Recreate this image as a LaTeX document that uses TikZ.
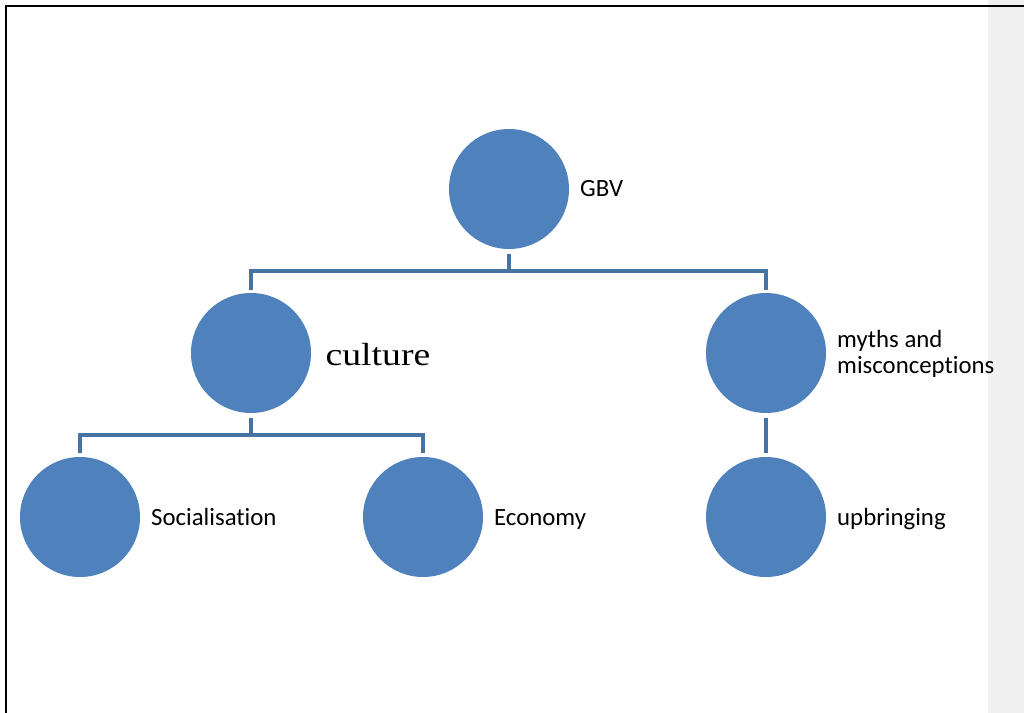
\documentclass[tikz,border=0pt]{standalone}
\usepackage{fontspec}
\setmainfont[Ligatures=NoCommon]{Carlito}
\newfontfamily\serifface{Liberation Serif}
\definecolor{discfill}{RGB}{79,129,189}
\definecolor{linkline}{RGB}{70,114,164}
\definecolor{margingray}{RGB}{240,240,240}
\begin{document}
\begin{tikzpicture}[x=0.75pt,y=-0.75pt,
  disc/.style={circle,fill=discfill,draw=none,minimum size=90pt,inner sep=0pt},
  lbl/.style={anchor=base west,inner sep=0pt,font=\fontsize{18.6}{19.8}\selectfont,align=left},
  conn/.style={draw=linkline,line width=3pt,line join=miter}]
  % page area, margin strip and frame
  \useasboundingbox (0,0) rectangle (1024,713);
  \fill[white] (0,0) rectangle (1024,713);
  \fill[margingray] (988,0) rectangle (1024,713);
  \draw[black,line width=1.5pt] (6,713) -- (6,6) -- (1024,6);

  % hierarchy discs
  \node[disc] (gbv) at (509,189) {};
  \node[disc] (culture) at (251,353) {};
  \node[disc] (myths) at (766,353) {};
  \node[disc] (social) at (80,517) {};
  \node[disc] (economy) at (423,517) {};
  \node[disc] (upbring) at (766,517) {};

  % labels beside the discs
  \node[lbl] (tgbv) at ([xshift=8pt,yshift=-5.4pt]gbv.east) {GBV};
  \node[anchor=base west,inner sep=0pt] (tculture) at ([xshift=10.5pt,yshift=-9pt]culture.east)
    {\serifface\fontsize{24}{26}\selectfont\scalebox{1.18}[1]{culture}};
  \node[lbl,anchor=west] (tmyths) at ([xshift=8pt,yshift=-0.6pt]myths.east) {myths and\\misconceptions};
  \node[lbl] (tsocial) at ([xshift=8pt,yshift=-6pt]social.east) {Socialisation};
  \node[lbl] (teconomy) at ([xshift=8pt,yshift=-6pt]economy.east) {Economy};
  \node[lbl] (tupbring) at ([xshift=8pt,yshift=-6pt]upbring.east) {upbringing};

  % bus points of the connectors
  \coordinate (bus1) at (509,271);
  \coordinate (bus2) at (251,435);

  % connectors
  \draw[conn] ([yshift=-3.75pt]gbv.south) -- (bus1);
  \draw[conn] ([yshift=2.25pt]culture.north) |- (bus1) -| ([yshift=2.25pt]myths.north);
  \draw[conn] ([yshift=-3.75pt]culture.south) -- (bus2);
  \draw[conn] ([yshift=3pt]social.north) |- (bus2) -| ([yshift=3pt]economy.north);
  \draw[conn] ([yshift=-3.75pt]myths.south) -- ([yshift=3pt]upbring.north);
\end{tikzpicture}
\end{document}
